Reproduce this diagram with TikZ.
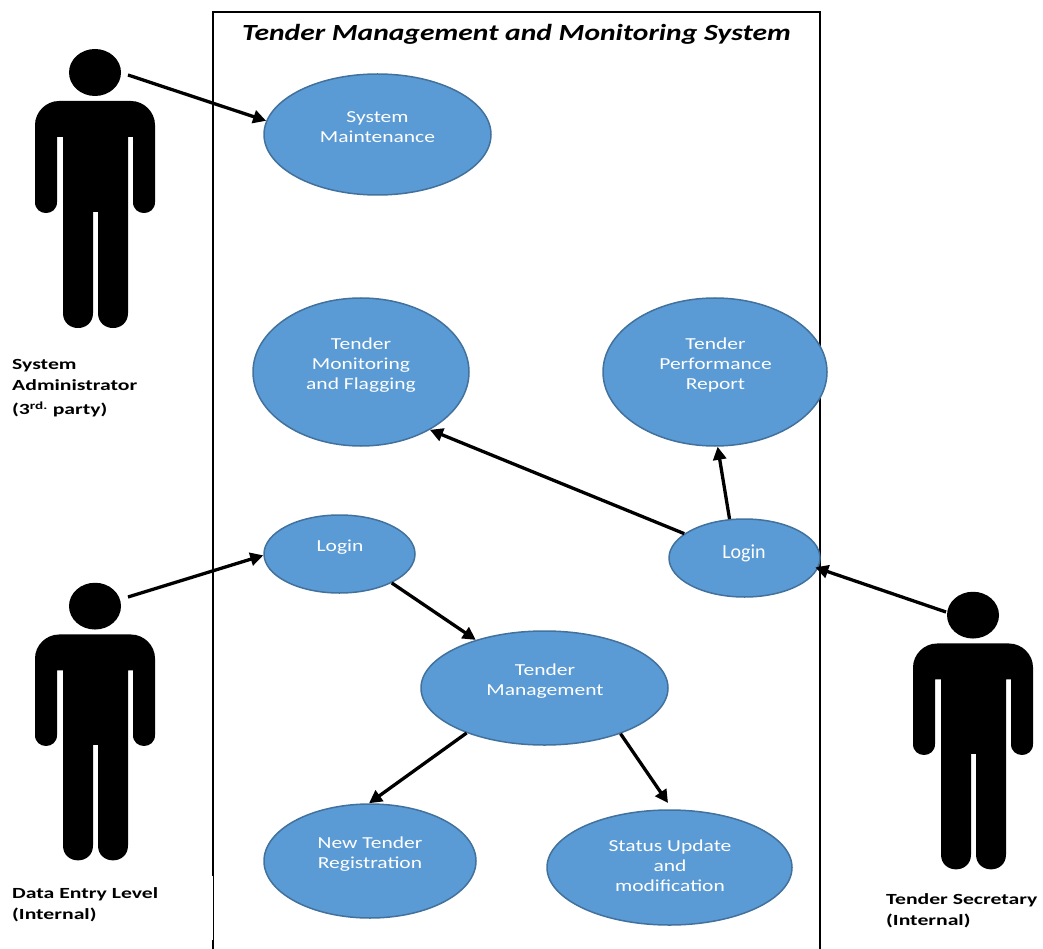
\documentclass[tikz,border=0pt]{standalone}
\usepackage{fontspec}
\usetikzlibrary{shapes.geometric,arrows.meta}
\newfontfamily\wide[FakeStretch=1.28]{Carlito}
\newfontfamily\wider[FakeStretch=1.4]{Carlito}
\newfontfamily\plainc{Carlito}
\definecolor{ucfill}{HTML}{5B9BD5}
\definecolor{ucline}{HTML}{41719C}
\tikzset{
  x=1pt,y=-1pt,
  usecase/.style={ellipse,draw=ucline,line width=1.5pt,fill=ucfill,inner sep=0pt},
  uctext/.style={text=white,align=center,inner sep=0pt,font=\wide\fontsize{16.8}{20}\selectfont},
  actorlabel/.style={anchor=west,align=left,inner sep=0pt,font=\wider\bfseries\fontsize{15.5}{21}\selectfont},
  link/.style={line width=3.3pt,-{Triangle[length=13pt,width=13pt]}},
  pics/person/.style={code={
    \fill[black] (95,72.5) ellipse [x radius=26,y radius=23.5];
    \fill[black] (35,125) .. controls (35,112) and (46,101) .. (59,101) -- (131,101)
      .. controls (144,101) and (155,112) .. (155,125) -- (155,202)
      .. controls (155,216.7) and (133,216.7) .. (133,202) -- (133,137) -- (128,137) -- (128,313)
      .. controls (128,333) and (98,333) .. (98,313) -- (98,212) -- (93,212) -- (93,313)
      .. controls (93,333) and (63,333) .. (63,313) -- (63,137) -- (57,137) -- (57,202)
      .. controls (57,216.7) and (35,216.7) .. (35,202) -- cycle;
  }}
}
\begin{document}
\begin{tikzpicture}
\useasboundingbox (0,0) rectangle (1043,949);
% system frame
\draw[line width=2.2pt] (213,876) -- (213,12) -- (820,12) -- (820,949);
\draw[line width=0.8pt] (213,876) -- (213,940);
\draw[line width=2.2pt] (213,940) -- (213,949);
\node[inner sep=0pt,font=\wide\bfseries\itshape\fontsize{23.1}{26}\selectfont] (title) at (516.5,34) {Tender Management and Monitoring System};
% actors
\pic (actorA) at (0,0) {person};
\pic[yscale=0.995] (actorB) at (0,534) {person};
\pic[yscale=0.995] (actorC) at (878,543) {person};
\coordinate (fromA) at (128,75);
\coordinate (fromB) at (128,597);
\coordinate (fromC) at (946,612);
\coordinate (suTip) at (668,803);
\node[actorlabel] (labelA) at (12,388) {System\\Administrator\\[3pt](3\textsuperscript{rd.} party)};
\node[actorlabel] (labelB) at (12,905) {Data Entry Level\\(Internal)};
\node[actorlabel] (labelC) at (886,911) {Tender Secretary\\(Internal)};
% use cases
\node[usecase,minimum width=227pt,minimum height=121pt] (sm) at (377.5,134.5) {};
\node[usecase,minimum width=216pt,minimum height=148pt] (tm) at (361,372) {};
\node[usecase,minimum width=224pt,minimum height=148pt] (tp) at (715,372) {};
\node[usecase,minimum width=151pt,minimum height=78pt] (ll) at (339.5,554) {};
\node[usecase,minimum width=151pt,minimum height=78pt] (lr) at (744.5,558) {};
\node[usecase,minimum width=247pt,minimum height=114pt] (mg) at (544.5,688) {};
\node[usecase,minimum width=212pt,minimum height=114pt] (nt) at (370,861) {};
\node[usecase,minimum width=245pt,minimum height=115pt] (su) at (669.5,867.5) {};
% use case texts
\node[uctext] (smt) at (377.5,127.5) {System\\Maintenance};
\node[uctext] (tmt) at (361,365) {Tender\\Monitoring\\and Flagging};
\node[uctext] (tpt) at (715.5,365) {Tender\\Performance\\Report};
\node[uctext] (llt) at (340,547) {Login};
\node[uctext,font=\plainc\fontsize{20}{24}\selectfont] (lrt) at (744,553) {Login};
\node[uctext] (mgt) at (545,681) {Tender\\Management};
\node[uctext] (ntt) at (370,854) {New Tender\\Registration};
\node[uctext] (sut) at (670,866) {Status Update\\and\\modification};
% connectors
\draw[link] (fromA) -- (sm.173.7);
\draw[link] (fromB) -- (ll.181.5);
\draw[link,shorten >=-3pt] (fromC) -- (lr.-8.7);
\draw[link] (lr.158.5) -- (tm.-40);
\draw[link] (lr.111) -- (tp.-88.5);
\draw[link] (ll.-29.7) -- (mg.145.2);
\draw[link] (mg.210.8) -- (nt.91);
\draw[link] (mg.-31) -- (suTip);
\end{tikzpicture}
\end{document}
